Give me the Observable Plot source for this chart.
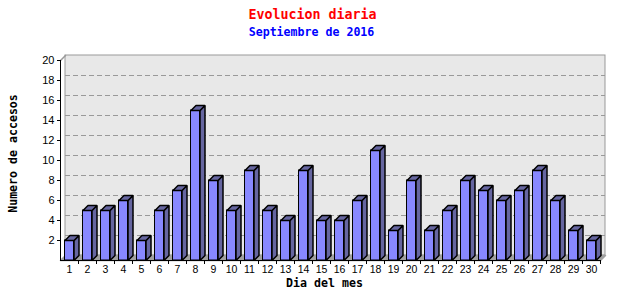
<!DOCTYPE html>
<html><head><meta charset="utf-8">
<script src="https://cdn.jsdelivr.net/npm/d3@7"></script>
<script src="https://cdn.jsdelivr.net/npm/@observablehq/plot@0.6"></script>
<style>html,body{margin:0;padding:0;background:#fff} svg{display:block}</style>
</head><body><div id="chart"></div>
<script>
const days = [1,2,3,4,5,6,7,8,9,10,11,12,13,14,15,16,17,18,19,20,21,22,23,24,25,26,27,28,29,30];
const accesos = [2,5,5,6,2,5,7,15,8,5,9,5,4,9,4,4,6,11,3,8,3,5,8,7,6,7,9,6,3,2];
const yTicks = [2,4,6,8,10,12,14,16,18,20];
const title = "Evolucion diaria";
const subtitle = "Septiembre de 2016";
const xLabel = "Dia del mes";
const yLabel = "Numero de accesos";

const W = 640, H = 300, mL = 60, mR = 40, mT = 60, mB = 40;
const xDomain = [0.5, 30.5], yDomain = [0, 20];
const depth = 5;
const pxX = (W - mL - mR) / (xDomain[1] - xDomain[0]);
const pxY = (H - mT - mB) / (yDomain[1] - yDomain[0]);
const ddx = depth / pxX, ddy = depth / pxY;
const half = 4.5 / pxX;

const bars = days.map((d, i) => ({day: d, v: accesos[i]}));
const tops = [], sides = [];
bars.forEach((b, i) => {
  const l = b.day - half, r = b.day + half;
  [[l, b.v], [l + ddx, b.v + ddy], [r + ddx, b.v + ddy], [r, b.v], [l, b.v]]
    .forEach(([x, y]) => tops.push({id: i, x, y}));
  [[r, b.v], [r + ddx, b.v + ddy], [r + ddx, ddy], [r, 0], [r, b.v]]
    .forEach(([x, y]) => sides.push({id: i, x, y}));
});
const floor = [[xDomain[0], 0], [xDomain[0] + ddx, ddy], [xDomain[1] + ddx, ddy], [xDomain[1], 0], [xDomain[0], 0]]
  .map(([x, y]) => ({x, y}));
const leftEdge = [[xDomain[0], yDomain[1]], [xDomain[0] + ddx, yDomain[1] + ddy]].map(([x, y]) => ({x, y}));
const bounds = days.map(d => d + 0.5);

const mono = "'DejaVu Sans Mono', monospace";

const chart = Plot.plot({
  width: W, height: H,
  marginLeft: mL, marginRight: mR, marginTop: mT, marginBottom: mB,
  x: {domain: xDomain, axis: null},
  y: {domain: yDomain, axis: null},
  style: {fontFamily: "'Liberation Sans', sans-serif", fontSize: "11px", background: "#fff", overflow: "visible"},
  marks: [
    Plot.rect([0], {x1: xDomain[0], x2: xDomain[1], y1: yDomain[0], y2: yDomain[1], dx: depth, dy: -depth, fill: "#e8e8e8", stroke: "#999999"}),
    Plot.ruleY(yTicks.filter(t => t < yDomain[1]), {x1: xDomain[0], x2: xDomain[1], dx: depth, dy: -depth, stroke: "#999999", strokeDasharray: "5,3"}),
    Plot.line(leftEdge, {x: "x", y: "y", stroke: "#999999"}),
    Plot.line(floor, {x: "x", y: "y", fill: "#a0a0a0", stroke: "#a0a0a0"}),
    Plot.rect(bars, {x1: d => d.day - half, x2: d => d.day + half, y1: 0, y2: "v", fill: "#8888ff", stroke: "black"}),
    Plot.line(sides, {x: "x", y: "y", z: "id", fill: "#6666a0", stroke: "black", strokeLinejoin: "miter"}),
    Plot.line(tops, {x: "x", y: "y", z: "id", fill: "#6666a0", stroke: "black", strokeLinejoin: "miter"}),
    Plot.ruleX([xDomain[0]], {stroke: "black"}),
    Plot.ruleY([0], {stroke: "black"}),
    Plot.axisY({ticks: yTicks, tickSize: 3, tickPadding: 3, label: null, fontSize: 11}),
    Plot.axisX({ticks: bounds, tickSize: 4, tickFormat: () => "", label: null}),
    Plot.axisX({ticks: days, tickSize: 0, tickPadding: 5, label: null, fontSize: 10.5}),
    Plot.text([title], {frameAnchor: "top", dx: -18, dy: -51, fill: "#ff0000", fontFamily: mono, fontWeight: "bold", fontSize: 13.3}),
    Plot.text([subtitle], {frameAnchor: "top", dx: -19, dy: -33, fill: "#0000ff", fontFamily: mono, fontWeight: "bold", fontSize: 11.6}),
    Plot.text([xLabel], {frameAnchor: "bottom", dx: -6, dy: 26, fill: "black", fontFamily: mono, fontWeight: "bold", fontSize: 11.6}),
    Plot.text([yLabel], {frameAnchor: "left", dx: -47, dy: -7, rotate: -90, textAnchor: "middle", lineAnchor: "middle", fill: "black", fontFamily: mono, fontWeight: "bold", fontSize: 11.6})
  ]
});
document.getElementById("chart").appendChild(chart);
</script>
</body></html>
